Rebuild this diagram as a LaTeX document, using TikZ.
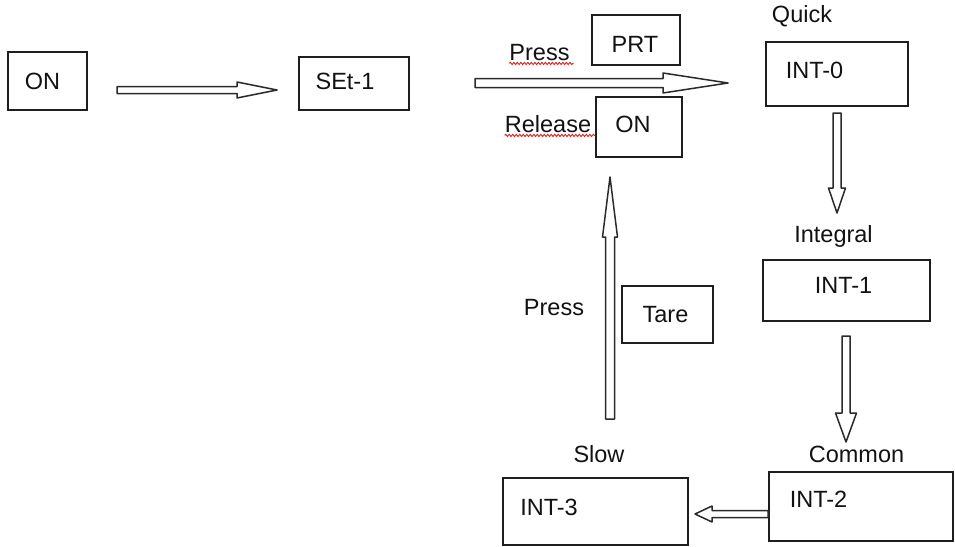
\documentclass[tikz,border=0pt]{standalone}
\usepackage{fontspec}
\setmainfont{Liberation Sans}
\usetikzlibrary{calc,decorations.pathmorphing}

\definecolor{boxline}{HTML}{1E1E1E}
\definecolor{arrowline}{HTML}{2A2A2A}
\definecolor{ink}{HTML}{121212}
\definecolor{squiggle}{HTML}{E02020}

% hollow block arrow: start, end, shaft half width, head half width, head length
\newcommand\hollowarrow[5]{%
  \coordinate (hb) at ($(#2)!#5pt!(#1)$);
  \draw[hollow]
    ($(#1)!#3pt!90:(#2)$) --
    ($(hb)!#3pt!-90:(#1)$) --
    ($(hb)!#4pt!-90:(#1)$) --
    (#2) --
    ($(hb)!#4pt!90:(#1)$) --
    ($(hb)!#3pt!90:(#1)$) --
    ($(#1)!#3pt!-90:(#2)$) -- cycle;}

\begin{document}
\begin{tikzpicture}[x=1pt,y=-1pt,
  box/.style={draw=boxline, line width=1.4pt, rectangle, inner sep=0pt},
  txt/.style={anchor=base, inner sep=0pt, text=ink, font=\fontsize{23.5}{27}\selectfont},
  hollow/.style={draw=arrowline, fill=white, line width=1.5pt, line join=round},
  spell/.style={draw=squiggle, line width=0.9pt,
    decorate, decoration={snake, amplitude=1.1pt, segment length=3.5pt}}]

\useasboundingbox (0,0) rectangle (955,546);

% boxes
\node[box, minimum width=79, minimum height=58]  (on)   at (47.5,81)   {};
\node[box, minimum width=110, minimum height=53] (set)  at (354,83.5)  {};
\node[box, minimum width=88, minimum height=50]  (prt)  at (636,40)    {};
\node[box, minimum width=86, minimum height=60]  (on2)  at (639,127)   {};
\node[box, minimum width=142, minimum height=64] (int0) at (837,74)    {};
\node[box, minimum width=167, minimum height=61] (int1) at (846.5,290.5) {};
\node[box, minimum width=91, minimum height=57]  (tare) at (667.5,314.5) {};
\node[box, minimum width=184, minimum height=69] (int2) at (861,506.5) {};
\node[box, minimum width=185, minimum height=67] (int3) at (595.5,511.5) {};

% texts
\node[txt] (tOn)   at (42.5,89)  {ON};
\node[txt] (tSet)  at (345,89)   {SEt-1};
\node[txt] (tPrt)  at (635,52)   {PRT};
\node[txt] (tOn2)  at (633,132)  {ON};
\node[txt] (tRel)  at (548,132)  {Release};
\node[txt] (tPr1)  at (539.5,60) {Press};
\node[txt] (tQk)   at (802,22)   {Quick};
\node[txt] (tI0)   at (814.5,78) {INT-0};
\node[txt] (tIgl)  at (833.5,242) {Integral};
\node[txt] (tI1)   at (843.5,293) {INT-1};
\node[txt] (tPr2)  at (554,315)  {Press};
\node[txt] (tTare) at (665.5,322) {Tare};
\node[txt] (tSlow) at (599,462)  {Slow};
\node[txt] (tCom)  at (856.5,462) {Common};
\node[txt] (tI2)   at (818.5,507) {INT-2};
\node[txt] (tI3)   at (549,515)  {INT-3};

% spelling marks
\draw[spell] (tPr1.south west) ++(0,3) -- ($(tPr1.south east)+(4,3)$);
\draw[spell] (tRel.south west) ++(0,3) -- ($(tRel.south east)+(4,3)$);

% arrow ends
\coordinate (a1s) at (117,90);  \coordinate (a1e) at (277,90);
\coordinate (a2s) at (475,83);  \coordinate (a2e) at (728,83);
\coordinate (a3s) at (837,113); \coordinate (a3e) at (837,213);
\coordinate (a4s) at (846,336); \coordinate (a4e) at (846,442);
\coordinate (a5s) at (768,514); \coordinate (a5e) at (695,514);
\coordinate (a6s) at (610,419); \coordinate (a6e) at (610,177);

\hollowarrow{a1s}{a1e}{3.5}{8}{40}
\hollowarrow{a2s}{a2e}{4.5}{10}{65}
\hollowarrow{a3s}{a3e}{4}{8.5}{25}
\hollowarrow{a4s}{a4e}{4}{10.5}{29}
\hollowarrow{a5s}{a5e}{3.5}{8}{17}
\hollowarrow{a6s}{a6e}{4.5}{7.5}{60}

\end{tikzpicture}
\end{document}
